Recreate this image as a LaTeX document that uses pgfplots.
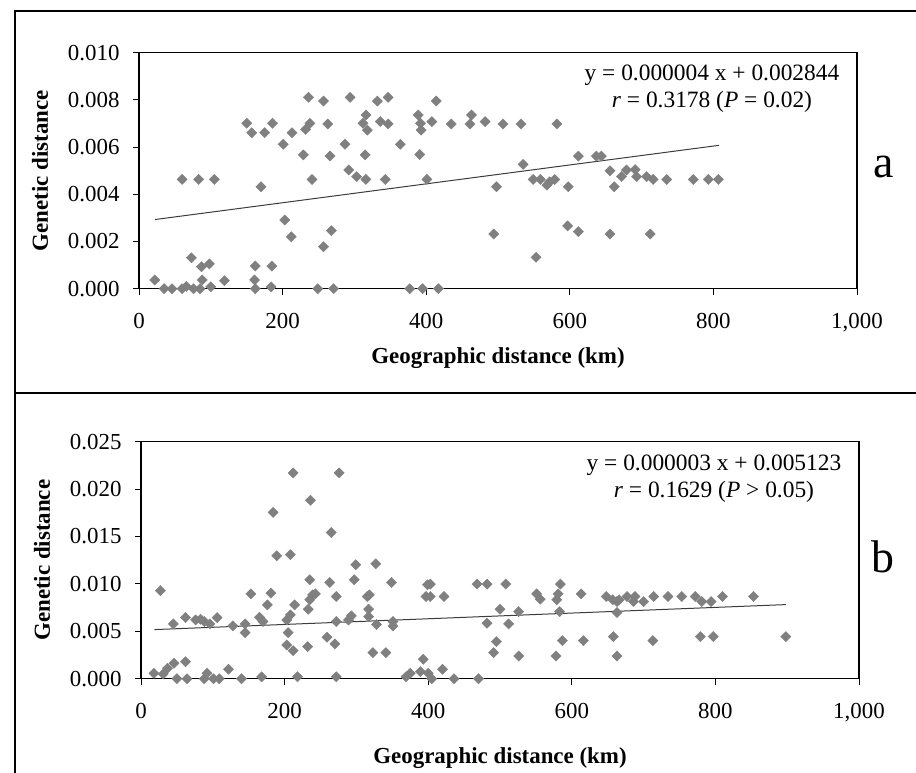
\documentclass[border=0pt]{standalone}
\usepackage{fontspec}
\setmainfont{Liberation Serif}
\usepackage{pgfplots}
\pgfplotsset{compat=1.18}
\definecolor{mk}{RGB}{128,128,128}
\definecolor{ln}{RGB}{60,60,60}
\pgfplotstableread{
x y
22 0.00037
35 0
46 0
60 0
66 0.0001
76 0
85 0
73 0.00131
87 0.00093
98 0.00105
88 0.00037
100 0.00008
119 0.00034
60 0.00463
83 0.00463
105 0.00463
150 0.00701
157 0.00661
175 0.00661
186 0.00701
170 0.00432
162 0.00096
161 0.00037
162 0
185 0.00096
184 0.00008
201 0.00612
213 0.00661
203 0.00291
212 0.0022
236 0.00811
238 0.00701
232 0.00675
229 0.00567
241 0.00463
257 0.00795
263 0.00698
266 0.00562
257 0.00178
268 0.00246
249 0
271 0
294 0.00811
287 0.00612
292 0.00503
303 0.00475
316 0.00463
315 0.00567
316 0.00736
312 0.00701
318 0.00672
332 0.00795
336 0.00708
347 0.00811
347 0.00698
343 0.00463
364 0.00612
377 0
395 0
389 0.00736
392 0.00701
393 0.00672
391 0.00569
401 0.00463
414 0.00795
408 0.00708
417 0
435 0.00698
461 0.00698
463 0.00736
482 0.00708
507 0.00698
532 0.00698
582 0.00698
498 0.00432
494 0.00232
535 0.00527
549 0.00463
559 0.00463
568 0.00439
572 0.00453
579 0.00463
553 0.00133
598 0.00432
597 0.00266
612 0.00242
612 0.00562
637 0.00562
644 0.00562
656 0.005
662 0.00432
656 0.00232
672 0.00475
679 0.00503
691 0.00505
693 0.00475
707 0.00475
716 0.00463
712 0.00232
735 0.00463
772 0.00463
793 0.00463
807 0.00463
}\dataA
\pgfplotstableread{
x y
18 0.00057
27 0.0093
31 0.0005
37 0.0011
45 0.00578
46 0.00163
50 0
62 0.00645
62 0.0018
64 0
76 0.0062
83 0.00627
88 0.00603
96 0.00578
106 0.00645
88 0
92 0.00057
101 0
109 0
122 0.001
128 0.00557
140 0
145 0.00578
145 0.00486
153 0.00895
165 0.00648
170 0.00603
168 0.0002
176 0.00779
181 0.00903
184 0.01755
189 0.01297
203 0.0062
208 0.00673
205 0.00486
203 0.00356
212 0.00296
208 0.01308
212 0.02171
214 0.00779
218 0.0002
232 0.00338
233 0.00733
235 0.00832
239 0.00885
235 0.01043
236 0.01882
243 0.00895
259 0.00437
263 0.01015
265 0.01543
270 0.00367
272 0.00867
272 0.00603
272 0.0002
276 0.02171
289 0.0062
293 0.00662
297 0.01043
299 0.01202
315 0.00867
318 0.00885
317 0.00733
317 0.00655
328 0.00571
327 0.01212
323 0.00275
341 0.00275
349 0.01015
351 0.00603
351 0.00557
369 0.0002
375 0.00057
389 0.00075
393 0.00205
397 0.00867
399 0.0099
403 0.00998
403 0.00867
422 0.00867
400 0.00057
405 0
420 0.001
436 0
470 0
468 0.00998
482 0.00998
508 0.00998
500 0.00733
526 0.00708
482 0.00585
512 0.00578
495 0.00391
491 0.00275
526 0.0024
551 0.00895
556 0.00839
579 0.00832
581 0.00895
584 0.00998
583 0.00708
587 0.00402
578 0.0024
616 0.00402
613 0.00895
648 0.00867
657 0.00832
663 0.00698
663 0.00814
666 0.00832
677 0.00867
688 0.00867
686 0.00814
700 0.00814
714 0.00867
734 0.00867
753 0.00867
772 0.00867
781 0.00814
794 0.00814
810 0.00867
853 0.00867
658 0.00444
663 0.0024
713 0.00402
779 0.00444
797 0.00444
898 0.00444
}\dataB
\pgfplotsset{
 myax/.style={
  scale only axis, width=718bp, anchor=south west,
  xmin=0, xmax=1000, xtick={0,200,400,600,800,1000},
  tick pos=left, tick align=outside, major tick length=6bp,
  axis line style={line width=1.3bp},
  every tick/.style={black, line width=0.9bp},
  tick label style={font=\fontsize{23}{27}\selectfont},
  /pgf/number format/assume math mode=true,
  xticklabel style={/pgf/number format/1000 sep={,}, yshift=-15bp},
  yticklabel style={/pgf/number format/fixed, /pgf/number format/fixed zerofill, /pgf/number format/precision=3, xshift=-10bp},
  scaled y ticks=false, scaled x ticks=false,
  label style={font=\fontsize{23}{27}\selectfont\bfseries},
  xlabel={Geographic distance (km)}, ylabel={Genetic distance},
  ylabel style={at={(axis description cs:-0.1379,0.5)}, anchor=center},
  clip=false,
 },
 mymk/.style={only marks, mark=square*, mark size=3.6bp, mark options={rotate=45, fill=mk, draw=mk}},
}
\begin{document}
\begin{tikzpicture}
\useasboundingbox (0bp,0bp) rectangle (916bp,-773bp);
\draw[line width=1.6bp] (916bp,-11bp) -- (15bp,-11bp) -- (15bp,-773bp);
\draw[line width=1.6bp] (15bp,-393bp) -- (916bp,-393bp);
\begin{axis}[myax, at={(139bp,-288.7bp)}, height=236bp,
  ymin=0, ymax=0.010, ytick={0,0.002,0.004,0.006,0.008,0.010},
  xlabel style={at={(axis description cs:0.5,-0.319)}, anchor=base}]
\addplot[mymk] table[x=x,y=y] {\dataA};
\addplot[ln, line width=1bp, mark=none] coordinates {(22,0.00293) (808,0.006076)};
\node[font=\fontsize{23.5}{27}\selectfont] at (rel axis cs:0.798,0.9055) {y = 0.000004 x + 0.002844};
\node[font=\fontsize{23.5}{27}\selectfont] at (rel axis cs:0.798,0.791) {\textit{r} = 0.3178 (\textit{P} = 0.02)};
\end{axis}
\begin{axis}[myax, at={(141bp,-678.7bp)}, height=237bp,
  ymin=0, ymax=0.025, ytick={0,0.005,0.010,0.015,0.020,0.025},
  xlabel style={at={(axis description cs:0.5,-0.3557)}, anchor=base}]
\addplot[mymk] table[x=x,y=y] {\dataB};
\addplot[ln, line width=1bp, mark=none] coordinates {(18.5,0.00518) (898,0.007817)};
\node[font=\fontsize{23.5}{27}\selectfont] at (rel axis cs:0.798,0.9017) {y = 0.000003 x + 0.005123};
\node[font=\fontsize{23.5}{27}\selectfont] at (rel axis cs:0.798,0.788) {\textit{r} = 0.1629 (\textit{P} > 0.05)};
\end{axis}
\node[font=\fontsize{46}{52}\selectfont, anchor=base] at (884bp,-177bp) {a};
\node[font=\fontsize{46}{52}\selectfont, anchor=base] at (883bp,-572bp) {b};
\end{tikzpicture}
\end{document}
